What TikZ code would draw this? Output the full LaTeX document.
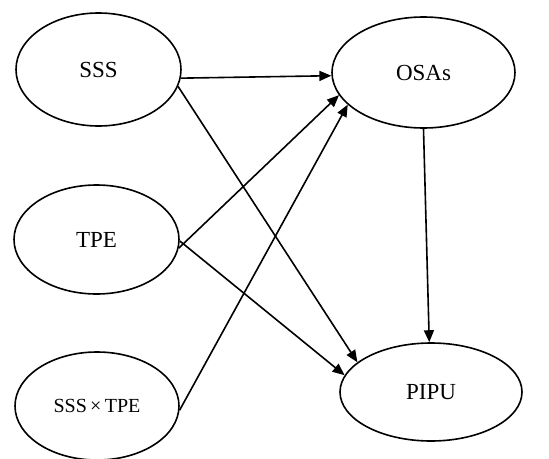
\documentclass[tikz,border=0pt]{standalone}
\usepackage{fontspec}
\setmainfont{Liberation Serif}
\usetikzlibrary{shapes.geometric, arrows.meta}
\tikzstyle{latent}=[ellipse, draw, line width=1.6pt, inner sep=0pt, font=\fontsize{23}{27}\selectfont]
\tikzstyle{path}=[line width=1.6pt, -{Triangle[length=12pt, width=10pt]}]

\begin{document}
\begin{tikzpicture}[x=1pt, y=-1pt]
\useasboundingbox (0,0) rectangle (549,458);
% Variables
    \node[latent, minimum width=165pt, minimum height=113pt] (sss) at (98.5,69.5) {SSS};
    \node[latent, minimum width=165pt, minimum height=109pt] (tpe) at (96.5,239.5) {TPE};
    \node[latent, minimum width=164pt, minimum height=108pt, font=\fontsize{20}{24}\selectfont] (inter) at (97,406) {SSS\,×\,TPE};
    \node[latent, minimum width=183pt, minimum height=111pt] (osas) at (423.5,72.5) {OSAs};
    \node[latent, minimum width=182pt, minimum height=98pt] (pipu) at (431,392) {PIPU};
% Paths to OSAs
    \draw[path] (sss.-6) -- (osas.182);
    \draw[path] (tpe.-6) -- (osas.195);
    \draw[path] (inter.-3) -- (osas.203);
% Paths to PIPU
    \draw[path] (sss.-12) -- (pipu.158);
    \draw[path] (tpe.-1) -- (pipu.169);
    \draw[path] (osas.south) -- (pipu.92);
\end{tikzpicture}
\end{document}
